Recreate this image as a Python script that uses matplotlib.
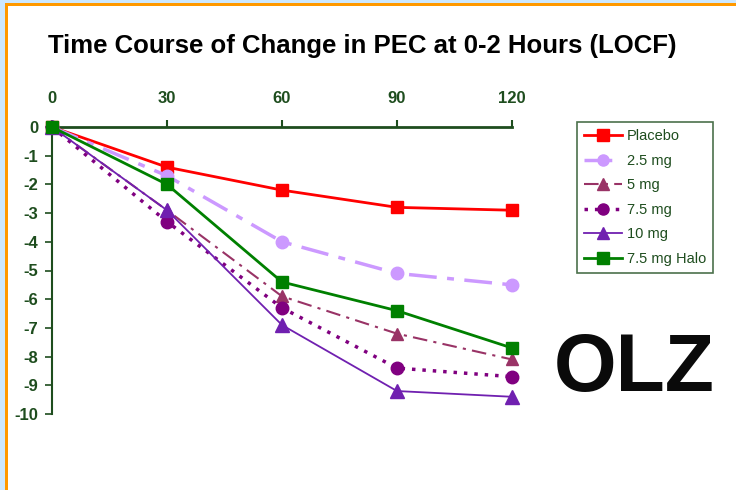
import matplotlib
matplotlib.use("Agg")
import matplotlib.pyplot as plt
from matplotlib.patches import Rectangle
from matplotlib.lines import Line2D

plt.rcParams['axes.unicode_minus'] = False
plt.rcParams['font.family'] = ['Liberation Sans', 'DejaVu Sans']

# Minutes after dosing
minutes = [0, 30, 60, 90, 120]

# Mean change in PEC score per group
placebo = [0, -1.4, -2.2, -2.8, -2.9]
olz_2_5 = [0, -1.7, -4.0, -5.1, -5.5]
olz_5 = [0, -2.9, -5.9, -7.2, -8.1]
olz_7_5 = [0, -3.3, -6.3, -8.4, -8.7]
olz_10 = [0, -2.9, -6.9, -9.2, -9.4]
halo_7_5 = [0, -2.0, -5.4, -6.4, -7.7]

x_ticks = [0, 30, 60, 90, 120]
y_ticks = [0, -1, -2, -3, -4, -5, -6, -7, -8, -9, -10]

AXIS_GREEN = '#1e4d1e'

fig = plt.figure(figsize=(7.36, 4.9), dpi=100)

# slide frame: pale blue margin with an orange border
fig.patches.append(Rectangle((0, 0), 6 / 736, 1, transform=fig.transFigure,
                             facecolor='#cce8ff', edgecolor='none', zorder=0))
fig.patches.append(Rectangle((0, 1 - 4 / 490), 1, 4 / 490, transform=fig.transFigure,
                             facecolor='#cce8ff', edgecolor='none', zorder=0))
fig.patches.append(Rectangle((5 / 736, 0), 3 / 736, 1 - 3 / 490, transform=fig.transFigure,
                             facecolor='#ff9900', edgecolor='none', zorder=1))
fig.patches.append(Rectangle((5 / 736, 1 - 6 / 490), 1, 3 / 490, transform=fig.transFigure,
                             facecolor='#ff9900', edgecolor='none', zorder=1))

ax = fig.add_axes([52 / 736, 76 / 490, 460 / 736, 287 / 490])

series = [
    ("Placebo", placebo, dict(color='#ff0000', ls='-', lw=2, marker='s', ms=9)),
    ("2.5 mg", olz_2_5, dict(color='#cc99ff', ls=(0, (8, 3, 2, 3)), lw=2.5, marker='o', ms=9)),
    ("5 mg", olz_5, dict(color='#993366', ls=(0, (7, 3, 1.5, 3)), lw=1.5, marker='^', ms=9)),
    ("7.5 mg", olz_7_5, dict(color='#800080', ls=(0, (1, 2)), lw=2.5, marker='o', ms=9)),
    ("10 mg", olz_10, dict(color='#7020b0', ls='-', lw=1.3, marker='^', ms=10)),
    ("7.5 mg Halo", halo_7_5, dict(color='#008000', ls='-', lw=2, marker='s', ms=9)),
]

for label, values, style in series:
    ax.plot(minutes, values, label=label, clip_on=False, zorder=3, **style)

ax.set_xlim(0, 120)
ax.set_ylim(-10, 0)

# x axis sits at the top (y = 0) with labels above it
ax.xaxis.set_ticks_position('top')
ax.xaxis.set_label_position('top')
ax.set_xticks(x_ticks)
ax.set_xticklabels([str(v) for v in x_ticks])
ax.set_yticks(y_ticks)
ax.set_yticklabels([str(v) for v in y_ticks])

for side in ['right', 'bottom']:
    ax.spines[side].set_visible(False)
for side in ['top', 'left']:
    ax.spines[side].set_color(AXIS_GREEN)
ax.spines['top'].set_linewidth(2)
ax.spines['left'].set_linewidth(1.5)

ax.tick_params(axis='x', direction='out', length=5, width=1.5, color=AXIS_GREEN,
               labelcolor=AXIS_GREEN, labelsize=12, pad=10)
ax.tick_params(axis='y', direction='out', length=5, width=1.2, color=AXIS_GREEN,
               labelcolor=AXIS_GREEN, labelsize=12, pad=5)
for t in ax.get_xticklabels() + ax.get_yticklabels():
    t.set_fontweight('bold')

handles = [Line2D([], [], **style) for _, _, style in series]
leg = ax.legend(handles, [s[0] for s in series], loc='upper left',
                bbox_to_anchor=(577 / 736, 1 - 122 / 490), bbox_transform=fig.transFigure,
                frameon=True, fancybox=False, handlelength=2.6,
                labelspacing=0.72, borderpad=0.5, handletextpad=0.3, borderaxespad=0,
                prop={'size': 10.5})
leg.get_frame().set_edgecolor(AXIS_GREEN)
leg.get_frame().set_linewidth(1.2)
for txt in leg.get_texts():
    txt.set_color(AXIS_GREEN)
for h in leg.legend_handles:
    h.set_markersize(8)

fig.text(362 / 736, 1 - 46 / 490, "Time Course of Change in PEC at 0-2 Hours (LOCF)",
         ha='center', va='center', fontsize=18.5, fontweight='bold', color='black')

fig.text(634 / 736, 1 - 391 / 490, "OLZ", ha='center', va='baseline', fontsize=58,
         fontweight='bold', color='#0a0a0a')

fig.savefig("out.png", dpi=100)
